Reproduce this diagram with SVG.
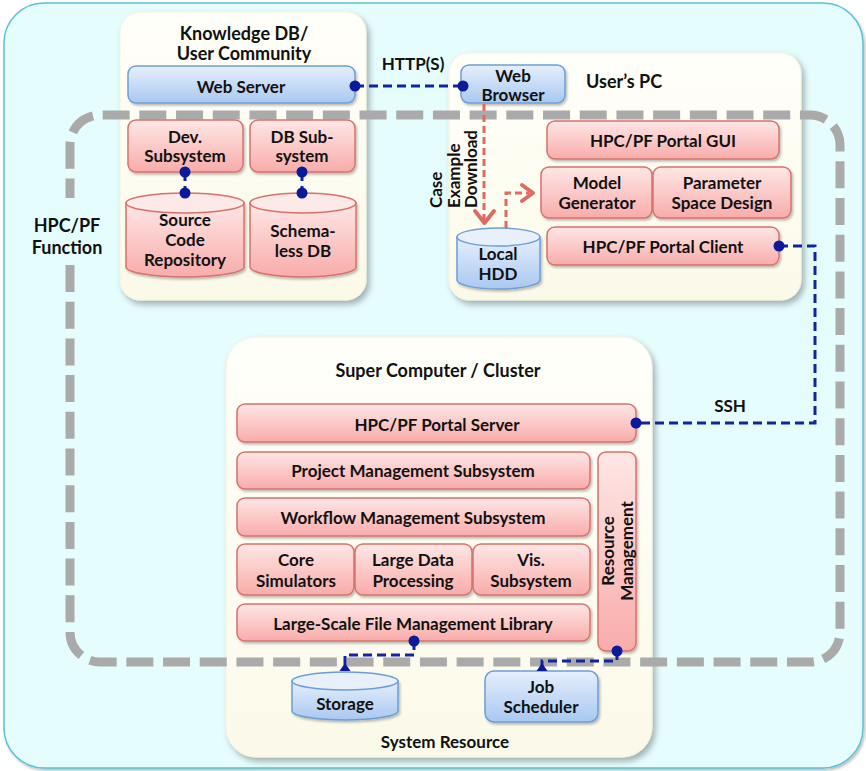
<svg xmlns="http://www.w3.org/2000/svg" width="866" height="771" viewBox="0 0 866 771">
  <defs>
    <linearGradient id="gRed" x1="0" y1="0" x2="0" y2="1">
      <stop offset="0" stop-color="#fee7e6"/>
      <stop offset="1" stop-color="#f8acaa"/>
    </linearGradient>
    <linearGradient id="gBlue" x1="0" y1="0" x2="0" y2="1">
      <stop offset="0" stop-color="#e6effc"/>
      <stop offset="1" stop-color="#a9c8f1"/>
    </linearGradient>
    <linearGradient id="gPanel" x1="0" y1="0" x2="0" y2="1">
      <stop offset="0" stop-color="#fffffa"/>
      <stop offset="1" stop-color="#fbfae9"/>
    </linearGradient>
    <filter id="shPanel" x="-10%" y="-10%" width="125%" height="125%">
      <feDropShadow dx="3" dy="4" stdDeviation="3" flood-color="#000" flood-opacity="0.3"/>
    </filter>
    <filter id="shBox" x="-10%" y="-10%" width="125%" height="130%">
      <feDropShadow dx="1.5" dy="2" stdDeviation="1.2" flood-color="#000" flood-opacity="0.25"/>
    </filter>
    <marker id="dot" viewBox="0 0 12 12" refX="6" refY="6" markerWidth="12" markerHeight="12" markerUnits="userSpaceOnUse">
      <circle cx="6" cy="6" r="5.5" fill="#0a1a9a"/>
    </marker>
    <style>
      .t { font-family: Lato, "Open Sans", sans-serif; font-weight: bold; font-size: 17px; fill: #111; text-anchor: middle; }
      .ttl { font-size: 18px; }
      .st { text-anchor: start; }
      .panel { fill: url(#gPanel); stroke: #f4f2dc; stroke-width: 1; filter: url(#shPanel); }
      .red { fill: url(#gRed); stroke: #d8716c; stroke-width: 1.5; filter: url(#shBox); }
      .blue { fill: url(#gBlue); stroke: #6b9ed6; stroke-width: 1.5; filter: url(#shBox); }
      .redtop { fill: #fde9e8; stroke: #d8716c; stroke-width: 1.5; }
      .bluetop { fill: #e8f0fc; stroke: #6b9ed6; stroke-width: 1.5; }
      .link { fill: none; stroke: #10259f; stroke-width: 3; stroke-dasharray: 9 5; }
      .flow { fill: none; stroke: #dd6b60; stroke-width: 3; stroke-dasharray: 7 4; }
      .head { fill: none; stroke: #dd6b60; stroke-width: 4; stroke-linecap: round; stroke-linejoin: round; }
      .func { fill: none; stroke: #aaaaaa; stroke-width: 9; stroke-dasharray: 27 9.7; }
    </style>
  </defs>

  <!-- backdrop -->
  <rect x="4" y="3" width="859" height="765" rx="40" fill="#e6fdfe" stroke="#5cc0d9" stroke-width="1.5" filter="url(#shBox)"/>

  <!-- Knowledge DB / User Community -->
  <g id="knowledge-db">
    <rect class="panel" x="120" y="12" width="246" height="288" rx="20"/>
    <text class="t ttl" x="244" y="40">Knowledge DB/</text>
    <text class="t ttl" x="244" y="60">User Community</text>
  </g>

  <!-- User's PC -->
  <g id="users-pc">
    <rect class="panel" x="449" y="53" width="352" height="247" rx="20"/>
    <text class="t ttl st" x="586" y="88">User’s PC</text>
  </g>

  <!-- Super Computer / Cluster -->
  <g id="super-computer">
    <rect class="panel" x="226" y="337" width="426" height="420" rx="30"/>
    <text class="t ttl" x="438" y="377">Super Computer / Cluster</text>
    <text class="t" x="445" y="748">System Resource</text>
  </g>

  <!-- HPC/PF function boundary -->
  <g id="hpcpf-function">
    <path class="func" d="M70,265 V632 A30,30 0 0 0 100,662 H810 A30,30 0 0 0 840,632 V145 A30,30 0 0 0 810,115 H100 A30,30 0 0 0 70,145 V198"/>
    <text class="t ttl" x="67" y="232">HPC/PF</text>
    <text class="t ttl" x="67" y="254">Function</text>
  </g>

  <!-- knowledge DB components -->
  <g id="web-server">
    <rect class="blue" x="128" y="66" width="227" height="37" rx="8"/>
    <text class="t" x="241" y="93">Web Server</text>
  </g>
  <g id="dev-subsystem">
    <rect class="red" x="128" y="120" width="115" height="52" rx="8"/>
    <text class="t" x="185" y="143">Dev.</text>
    <text class="t" x="185" y="162">Subsystem</text>
  </g>
  <g id="db-subsystem">
    <rect class="red" x="250" y="120" width="105" height="52" rx="8"/>
    <text class="t" x="302" y="143">DB Sub-</text>
    <text class="t" x="302" y="162">system</text>
  </g>
  <g id="source-code-repository">
    <path class="red" d="M126,203 V267 A59,10 0 0 0 244,267 V203 Z"/>
    <ellipse class="redtop" cx="185" cy="203" rx="59" ry="10"/>
    <text class="t" x="185" y="226">Source</text>
    <text class="t" x="185" y="246">Code</text>
    <text class="t" x="185" y="266">Repository</text>
  </g>
  <g id="schemaless-db">
    <path class="red" d="M250,203 V267 A53,10 0 0 0 356,267 V203 Z"/>
    <ellipse class="redtop" cx="303" cy="203" rx="53" ry="10"/>
    <text class="t" x="303" y="237">Schema-</text>
    <text class="t" x="303" y="257">less DB</text>
  </g>

  <!-- user's PC components -->
  <g id="web-browser">
    <rect class="blue" x="461" y="65" width="104" height="38" rx="8"/>
    <text class="t" x="513" y="82">Web</text>
    <text class="t" x="513" y="101">Browser</text>
  </g>
  <g id="local-hdd">
    <path class="blue" d="M457,237 V280 A41.5,9 0 0 0 540,280 V237 Z"/>
    <ellipse class="bluetop" cx="498.5" cy="237" rx="41.5" ry="9"/>
    <text class="t" x="498" y="260">Local</text>
    <text class="t" x="498" y="280">HDD</text>
  </g>
  <g id="portal-gui">
    <rect class="red" x="547" y="121" width="232" height="38" rx="8"/>
    <text class="t" x="663" y="147">HPC/PF Portal GUI</text>
  </g>
  <g id="model-generator">
    <rect class="red" x="541" y="167" width="111" height="51" rx="8"/>
    <text class="t" x="597" y="189">Model</text>
    <text class="t" x="597" y="209">Generator</text>
  </g>
  <g id="parameter-space-design">
    <rect class="red" x="653" y="167" width="138" height="51" rx="8"/>
    <text class="t" x="722" y="189">Parameter</text>
    <text class="t" x="722" y="209">Space Design</text>
  </g>
  <g id="portal-client">
    <rect class="red" x="547" y="227" width="232" height="38" rx="8"/>
    <text class="t" x="663" y="253">HPC/PF Portal Client</text>
  </g>

  <!-- super computer components -->
  <g id="portal-server">
    <rect class="red" x="237" y="404" width="399" height="38" rx="8"/>
    <text class="t" x="437" y="431">HPC/PF Portal Server</text>
  </g>
  <g id="project-management">
    <rect class="red" x="237" y="452" width="353" height="37" rx="8"/>
    <text class="t" x="413" y="477">Project Management Subsystem</text>
  </g>
  <g id="workflow-management">
    <rect class="red" x="237" y="498" width="353" height="38" rx="8"/>
    <text class="t" x="413" y="524">Workflow Management Subsystem</text>
  </g>
  <g id="core-simulators">
    <rect class="red" x="237" y="544" width="117" height="51" rx="8"/>
    <text class="t" x="296" y="566">Core</text>
    <text class="t" x="296" y="587">Simulators</text>
  </g>
  <g id="large-data-processing">
    <rect class="red" x="355" y="544" width="117" height="51" rx="8"/>
    <text class="t" x="413" y="566">Large Data</text>
    <text class="t" x="413" y="587">Processing</text>
  </g>
  <g id="vis-subsystem">
    <rect class="red" x="473" y="544" width="117" height="51" rx="8"/>
    <text class="t" x="531" y="566">Vis.</text>
    <text class="t" x="531" y="587">Subsystem</text>
  </g>
  <g id="file-management-library">
    <rect class="red" x="237" y="604" width="353" height="37" rx="8"/>
    <text class="t" x="413" y="630">Large-Scale File Management Library</text>
  </g>
  <g id="resource-management">
    <rect class="red" x="598" y="452" width="38" height="199" rx="8"/>
    <text class="t" transform="translate(614,551) rotate(-90)">Resource</text>
    <text class="t" transform="translate(633,551) rotate(-90)">Management</text>
  </g>
  <g id="storage">
    <path class="blue" d="M292,681 V711 A53,9 0 0 0 398,711 V681 Z"/>
    <ellipse class="bluetop" cx="345" cy="681" rx="53" ry="9"/>
    <text class="t" x="345" y="710">Storage</text>
  </g>
  <g id="job-scheduler">
    <rect class="blue" x="485" y="671" width="113" height="51" rx="9"/>
    <text class="t" x="541" y="693">Job</text>
    <text class="t" x="541" y="713">Scheduler</text>
  </g>

  <!-- connectors -->
  <g id="connectors">
    <path class="link" d="M355,86 H463" marker-start="url(#dot)" marker-end="url(#dot)"/>
    <text class="t" x="413" y="70">HTTP(S)</text>
    <path class="link" d="M185,172 V193" marker-start="url(#dot)" marker-end="url(#dot)"/>
    <path class="link" d="M302,172 V193" marker-start="url(#dot)" marker-end="url(#dot)"/>
    <path class="link" d="M779,246 H815 V423 H636" marker-start="url(#dot)" marker-end="url(#dot)"/>
    <text class="t" x="730" y="412">SSH</text>
    <path class="link" d="M414,641 V655 H345 V668" marker-start="url(#dot)"/>
    <path d="M345,663 L350.5,671 L339.5,671 Z" fill="#0a1a9a"/>
    <path class="link" d="M617,651 V661 H542 V668" marker-start="url(#dot)"/>
    <path d="M542,663 L547.5,671 L536.5,671 Z" fill="#0a1a9a"/>

    <!-- case example download flow -->
    <path class="flow" d="M484,104 V222"/>
    <path class="head" d="M475,211 L484.5,223 L494,211"/>
    <path class="flow" d="M506,228 V193 H529"/>
    <path class="head" d="M522,185 L533,193 L522,201"/>
    <text class="t st" transform="translate(442,208) rotate(-90)">Case</text>
    <text class="t st" transform="translate(460,208) rotate(-90)">Example</text>
    <text class="t st" transform="translate(477,208) rotate(-90)">Download</text>
  </g>
</svg>
